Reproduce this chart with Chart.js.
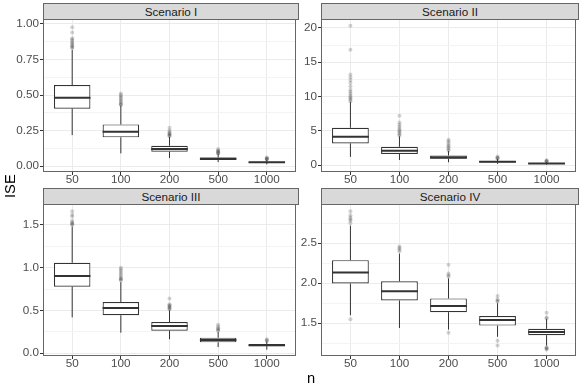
<!DOCTYPE html>
<html><head><meta charset="utf-8">
<script src="https://cdn.jsdelivr.net/npm/chart.js@4/dist/chart.umd.min.js"></script>
<style>
html,body{margin:0;padding:0;background:#fff;}
#wrap{position:relative;width:581px;height:388px;overflow:hidden;font-family:"Liberation Sans",Arial,sans-serif;}
canvas{position:absolute;}
.strip{position:absolute;box-sizing:border-box;background:#d9d9d9;border:1px solid #666666;color:#1a1a1a;font-size:11.7px;text-align:center;line-height:15px;height:17px;white-space:nowrap;}
.axt{position:absolute;color:#000;font-size:14.7px;line-height:16px;}
</style></head>
<body>
<div id="wrap">
  <canvas id="c1" width="300" height="180" style="left:0;top:15px;width:300px;height:180px"></canvas>
  <canvas id="c2" width="280" height="180" style="left:300px;top:15px;width:280px;height:180px"></canvas>
  <canvas id="c3" width="300" height="180" style="left:0;top:200px;width:300px;height:180px"></canvas>
  <canvas id="c4" width="280" height="180" style="left:300px;top:200px;width:280px;height:180px"></canvas>
  <div class="strip" id="s1" style="left:43px;top:3px;width:256px"></div>
  <div class="strip" id="s2" style="left:321px;top:3px;width:258px"></div>
  <div class="strip" id="s3" style="left:43px;top:188px;width:256px"></div>
  <div class="strip" id="s4" style="left:321px;top:188px;width:258px"></div>
  <div class="axt" id="ylab" style="left:2px;top:182px;width:16px;height:16px;transform:rotate(-90deg);text-align:center;">ISE</div>
  <div class="axt" id="xlab" style="left:300px;top:370px;width:22px;text-align:center;">n</div>
</div>
<script>
// ---------- data ----------
const categories = ['50', '100', '200', '500', '1000'];
const scenarios = ['Scenario I', 'Scenario II', 'Scenario III', 'Scenario IV'];

// Scenario I
const s1Lo  = [0.218, 0.089, 0.056, 0.028, 0.012];
const s1Q1  = [0.404, 0.202, 0.101, 0.043, 0.022];
const s1Med = [0.481, 0.242, 0.120, 0.051, 0.026];
const s1Q3  = [0.570, 0.293, 0.143, 0.060, 0.031];
const s1Hi  = [0.817, 0.425, 0.205, 0.085, 0.044];
const s1Out = [[0.83, 0.835, 0.845, 0.85, 0.86, 0.87, 0.88, 0.89, 0.90, 0.94, 0.977],
               [0.43, 0.435, 0.44, 0.45, 0.46, 0.47, 0.48, 0.49, 0.50, 0.51],
               [0.21, 0.215, 0.22, 0.225, 0.23, 0.24, 0.25, 0.27],
               [0.088, 0.09, 0.095, 0.10, 0.105, 0.11, 0.12],
               [0.046, 0.05, 0.052, 0.055, 0.06]];
const s1Ticks = [0, 0.25, 0.5, 0.75, 1.0];
const s1TickLabels = ['0.00', '0.25', '0.50', '0.75', '1.00'];

// Scenario II
const s2Lo  = [1.2, 0.75, 0.42, 0.18, 0.07];
const s2Q1  = [3.17, 1.62, 0.92, 0.38, 0.18];
const s2Med = [4.13, 2.09, 1.12, 0.48, 0.24];
const s2Q3  = [5.45, 2.67, 1.40, 0.60, 0.30];
const s2Hi  = [9.2, 4.2, 2.05, 0.9, 0.45];
const s2Out = [[9.3, 9.5, 9.7, 9.9, 10.1, 10.4, 10.7, 11.0, 11.5, 12.0, 12.4, 12.8, 13.2, 16.8, 20.3],
               [4.3, 4.5, 4.7, 4.9, 5.1, 5.3, 5.6, 5.9, 6.2, 7.2],
               [2.1, 2.3, 2.5, 2.7, 2.9, 3.2, 3.5, 3.7],
               [0.95, 1.0, 1.1, 1.25],
               [0.5, 0.55, 0.6, 0.7]];
const s2Ticks = [0, 5, 10, 15, 20];
const s2TickLabels = ['0', '5', '10', '15', '20'];

// Scenario III
const s3Lo  = [0.418, 0.238, 0.16, 0.07, 0.04];
const s3Q1  = [0.777, 0.442, 0.262, 0.125, 0.080];
const s3Med = [0.902, 0.527, 0.316, 0.152, 0.092];
const s3Q3  = [1.058, 0.598, 0.363, 0.180, 0.105];
const s3Hi  = [1.48, 0.83, 0.50, 0.245, 0.135];
const s3Out = [[1.50, 1.51, 1.52, 1.53, 1.55, 1.60, 1.62, 1.66],
               [0.85, 0.86, 0.87, 0.88, 0.90, 0.92, 0.94, 0.96, 0.98, 1.0],
               [0.51, 0.52, 0.53, 0.54, 0.55, 0.56, 0.57, 0.64],
               [0.26, 0.27, 0.28, 0.29, 0.31, 0.33],
               [0.14, 0.15, 0.16]];
const s3Ticks = [0, 0.5, 1.0, 1.5];
const s3TickLabels = ['0.0', '0.5', '1.0', '1.5'];

// Scenario IV
const s4Lo  = [1.60, 1.44, 1.42, 1.33, 1.22];
const s4Q1  = [1.996, 1.784, 1.638, 1.47, 1.35];
const s4Med = [2.133, 1.90, 1.716, 1.54, 1.39];
const s4Q3  = [2.288, 2.025, 1.81, 1.59, 1.43];
const s4Hi  = [2.72, 2.37, 2.06, 1.75, 1.55];
const s4Out = [[1.55, 2.75, 2.78, 2.80, 2.82, 2.85, 2.90],
               [2.40, 2.42, 2.44, 2.46],
               [1.38, 2.08, 2.10, 2.12, 2.23],
               [1.22, 1.28, 1.77, 1.78, 1.80, 1.84],
               [1.17, 1.18, 1.19, 1.20, 1.56, 1.57, 1.63]];
const s4Ticks = [1.5, 2.0, 2.5];
const s4TickLabels = ['1.5', '2.0', '2.5'];

// ---------- chart ----------
const FONT = {family: '"Liberation Sans", Arial, sans-serif', size: 11.7};
const frame = {
  id: 'frame',
  afterDatasetsDraw(chart) {
    const a = chart.chartArea, c = chart.ctx;
    c.save();
    c.strokeStyle = '#666666';
    c.lineWidth = 1;
    c.strokeRect(Math.round(a.left) + 0.5, Math.round(a.top) + 0.5,
                 Math.round(a.right - a.left) - 1, Math.round(a.bottom - a.top) - 1);
    c.restore();
  }
};

function makePanel(id, stripId, title, lo, q1, med, q3, hi, out, majors, majorLabels, yMin, yMax, yAxisW, xAxisH, padRight) {
  document.getElementById(stripId).textContent = title;
  const step = majors[1] - majors[0];
  const minors = [];
  majors.forEach(m => {
    [m - step / 2, m + step / 2].forEach(v => {
      if (v > yMin && v < yMax && !minors.some(u => Math.abs(u - v) < 1e-9)) minors.push(v);
    });
  });
  const isMajor = v => majors.some(m => Math.abs(m - v) < 1e-9);
  const labelFor = v => { const i = majors.findIndex(m => Math.abs(m - v) < 1e-9); return i >= 0 ? majorLabels[i] : ''; };

  const whisk = [], meds = [], boxes = [], pts = [];
  categories.forEach((c, i) => {
    const x = i + 1;
    whisk.push({x, y: lo[i]}, {x, y: q1[i]}, {x, y: null}, {x, y: q3[i]}, {x, y: hi[i]}, {x, y: null});
    boxes.push({x, y: [q1[i], q3[i]]});
    meds.push({x: x - 0.375, y: med[i]}, {x: x + 0.375, y: med[i]}, {x: x + 0.375, y: null});
    out[i].forEach(v => pts.push({x, y: v}));
  });

  new Chart(document.getElementById(id), {
    type: 'bar',
    data: {
      datasets: [
        {type: 'line', data: whisk, borderColor: '#333333', borderWidth: 1, pointRadius: 0, spanGaps: false, order: 4},
        {type: 'bar', data: boxes, backgroundColor: '#ffffff', borderColor: '#333333', borderWidth: 1.2,
         borderSkipped: false, categoryPercentage: 0.75, barPercentage: 1, grouped: false, order: 3},
        {type: 'line', data: meds, borderColor: '#333333', borderWidth: 2, pointRadius: 0, spanGaps: false, order: 2},
        {type: 'scatter', data: pts, backgroundColor: 'rgba(51,51,51,0.22)', borderWidth: 0, pointRadius: 2, order: 1}
      ]
    },
    options: {
      responsive: false, animation: false, devicePixelRatio: 1,
      layout: {padding: {top: 4, right: padRight, left: 0, bottom: 0}},
      plugins: {legend: {display: false}, tooltip: {enabled: false}, title: {display: false}},
      scales: {
        x: {
          type: 'linear', min: 0.4, max: 5.6, offset: false,
          afterBuildTicks: s => { s.ticks = categories.map((c, i) => ({value: i + 1})); },
          afterFit: s => { s.height = xAxisH; s.paddingLeft = 0; s.paddingRight = 0; },
          ticks: {callback: v => categories[Math.round(v) - 1], font: FONT, color: '#4d4d4d', padding: -2, maxRotation: 0, autoSkip: false},
          grid: {offset: false, color: '#ebebeb', lineWidth: 1, tickColor: '#333333', tickLength: 3, drawTicks: true},
          border: {display: false}
        },
        y: {
          type: 'linear', min: yMin, max: yMax,
          afterBuildTicks: s => { s.ticks = majors.concat(minors).sort((a, b) => a - b).map(v => ({value: v})); },
          afterFit: s => { s.width = yAxisW; s.paddingTop = 0; s.paddingBottom = 0; },
          ticks: {callback: v => labelFor(v), font: FONT, color: '#4d4d4d', padding: 1, autoSkip: false},
          grid: {
            color: c => (c.tick && isMajor(c.tick.value)) ? '#ebebeb' : '#f4f4f4',
            tickColor: c => (c.tick && isMajor(c.tick.value)) ? '#333333' : 'rgba(0,0,0,0)',
            lineWidth: 1, tickLength: 3, drawTicks: true
          },
          border: {display: false}
        }
      }
    },
    plugins: [frame]
  });
}

makePanel('c1', 's1', scenarios[0], s1Lo, s1Q1, s1Med, s1Q3, s1Hi, s1Out, s1Ticks, s1TickLabels, -0.042, 1.035, 43, 23, 2);
makePanel('c2', 's2', scenarios[1], s2Lo, s2Q1, s2Med, s2Q3, s2Hi, s2Out, s2Ticks, s2TickLabels, -1.0, 21.3, 21, 23, 2);
makePanel('c3', 's3', scenarios[2], s3Lo, s3Q1, s3Med, s3Q3, s3Hi, s3Out, s3Ticks, s3TickLabels, -0.035, 1.746, 43, 24, 2);
makePanel('c4', 's4', scenarios[3], s4Lo, s4Q1, s4Med, s4Q3, s4Hi, s4Out, s4Ticks, s4TickLabels, 1.09, 2.99, 21, 24, 2);
</script>
</body></html>
